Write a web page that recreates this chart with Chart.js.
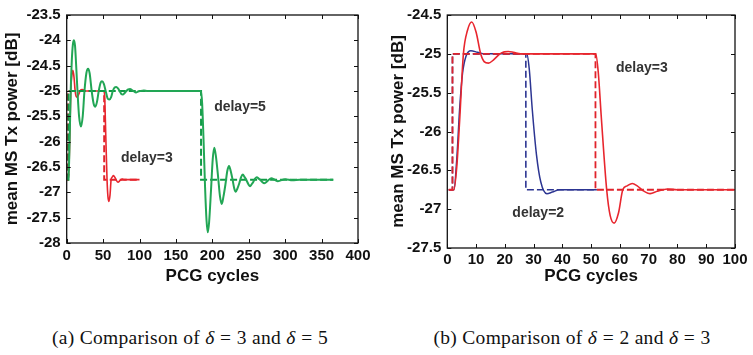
<!DOCTYPE html>
<html>
<head>
<meta charset="utf-8">
<script src="https://cdn.jsdelivr.net/npm/chart.js@4.4.1/dist/chart.umd.min.js"></script>
<style>
  html, body { margin: 0; padding: 0; background: #fff; }
  body { width: 753px; height: 355px; position: relative; overflow: hidden; }
  .box { position: absolute; top: 0; }
  .cap { position: absolute; top: 327px; font-family: "Liberation Serif", "DejaVu Serif", serif; font-size: 19.5px; letter-spacing: 0.3px; color: #111; white-space: nowrap; transform: translateX(-50%); }
  .cap i { font-style: italic; }
  .cap .eq { padding: 0 0.28em; }
</style>
</head>
<body>
<div class="box" style="left:0px;width:375px;height:290px;"><canvas id="c1" width="375" height="290"></canvas></div>
<div class="box" style="left:376px;width:377px;height:290px;"><canvas id="c2" width="377" height="290"></canvas></div>
<div class="cap" style="left:190px;">(a) Comparison of <i>δ</i><span class="eq">=</span>3 and <i>δ</i><span class="eq">=</span>5</div>
<div class="cap" style="left:572px;">(b) Comparison of <i>δ</i><span class="eq">=</span>2 and <i>δ</i><span class="eq">=</span>3</div>
<script>
// ---------- tick labels ----------
const leftXTicks = [0, 50, 100, 150, 200, 250, 300, 350, 400];
const leftYTicks = [-23.5, -24, -24.5, -25, -25.5, -26, -26.5, -27, -27.5, -28];
const rightXTicks = [0, 10, 20, 30, 40, 50, 60, 70, 80, 90, 100];
const rightYTicks = [-24.5, -25, -25.5, -26, -26.5, -27, -27.5];

// ---------- series (x = PCG cycle, y = mean MS Tx power dB) ----------
// delay = 3 target (dashed) and response (solid) — used in both panels
const delay3Target = [[0.5,-26.75],[1.8,-26.75],[1.8,-25],[51.5,-25],[51.5,-26.75],[100,-26.75]];
const delay3Response = [[0.5,-26.75],[2.3,-26.75],[3.3,-26.45],[4.3,-25.85],[5.6,-25.0],[7,-24.7],[8.5,-24.59],[10,-24.72],[11.6,-25.0],[12.8,-25.1],[14.3,-25.12],[16,-25.08],[18.3,-25.0],[19.8,-24.975],[21.2,-24.97],[23,-24.98],[25.5,-25.0],[51.6,-25.0],[52.5,-25.25],[53.5,-25.8],[55.4,-26.75],[56.6,-27.08],[58,-27.18],[59.5,-27.05],[61,-26.75],[62.5,-26.7],[64.3,-26.67],[66,-26.7],[68,-26.76],[70.5,-26.8],[73,-26.77],[76.5,-26.74],[80,-26.75],[100,-26.75]];
// delay = 5 target (dashed) and response (solid)
const delay5Target = [[1,-26.75],[2.5,-26.75],[2.5,-25],[184.5,-25],[184.5,-26.75],[366,-26.75]];
const delay5Response = [[1.5,-26.75],[3,-26.55],[4,-26.0],[5.5,-25.0],[7,-24.4],[8.5,-24.08],[10,-24.0],[11.5,-24.12],[13,-24.5],[14.8,-25.0],[17,-25.5],[19.6,-25.7],[22,-25.5],[24.4,-25.0],[27,-24.65],[29.3,-24.56],[31.5,-24.65],[34.3,-25.0],[37,-25.25],[39.3,-25.31],[41.5,-25.22],[44,-25.0],[46.5,-24.84],[48.5,-24.81],[51,-24.86],[53.5,-25.0],[56,-25.14],[58.4,-25.17],[61,-25.12],[63.3,-25.0],[65.8,-24.93],[68.1,-24.92],[70.5,-24.95],[72.6,-25.0],[75,-25.06],[77,-25.07],[79.5,-25.04],[82,-25.0],[84.5,-24.97],[87,-24.96],[89.5,-24.98],[91.5,-25.0],[95.2,-25.03],[98,-25.01],[101,-25.0],[106,-24.99],[111,-25.0],[184.5,-25.0],[186,-25.25],[188,-26.0],[190,-26.9],[192,-27.55],[193.7,-27.79],[195.5,-27.6],[198.2,-26.95],[200.5,-26.35],[202.7,-26.12],[205,-26.3],[207.8,-26.68],[210.5,-27.08],[212.9,-27.23],[215.3,-27.08],[217.9,-26.85],[220.5,-26.58],[222.9,-26.48],[225.2,-26.58],[227.5,-26.73],[230,-26.92],[232.1,-26.99],[234.5,-26.92],[237,-26.82],[239.5,-26.7],[241.8,-26.65],[244.3,-26.7],[246.8,-26.76],[249.5,-26.84],[251.8,-26.88],[254,-26.84],[256.4,-26.79],[258.7,-26.73],[261,-26.7],[263.6,-26.73],[266.2,-26.76],[268.8,-26.8],[271.4,-26.82],[276.2,-26.77],[281,-26.72],[285.5,-26.75],[290,-26.78],[300,-26.74],[310,-26.76],[320,-26.75],[366,-26.75]];
// delay = 2 target (dashed) and response (solid)
const delay2Target = [[0.5,-26.75],[1.8,-26.75],[1.8,-25],[27.3,-25],[27.3,-26.75],[52,-26.75]];
const delay2Response = [[0.5,-26.75],[2.3,-26.75],[3.3,-26.35],[4.3,-25.7],[5.3,-25.25],[6.5,-25.03],[8.2,-24.96],[10.5,-24.98],[13,-25.0],[27.6,-25.0],[28.5,-25.2],[29.5,-25.7],[31,-26.3],[32.5,-26.65],[34.6,-26.8],[36.5,-26.78],[39,-26.75],[52,-26.75]];

// ---------- annotations ----------
const leftNotes = [{text:'delay=5', x:238, y:-25.32}, {text:'delay=3', x:110, y:-26.32}];
const rightNotes = [{text:'delay=3', x:67.6, y:-25.19}, {text:'delay=2', x:31.6, y:-27.05}];

const RED = '#e8262e', RED_D = '#e0232b', GREEN = '#22a655', GREEN_D = '#0f9a45', BLUE = '#2c3592';
const FONT = '"Liberation Sans", Arial, Helvetica, sans-serif';

const toXY = arr => arr.map(p => ({x: p[0], y: p[1]}));

function solid(data, color, w, order) {
  return {data: toXY(data), borderColor: color, borderWidth: w, pointRadius: 0, fill: false,
          cubicInterpolationMode: 'monotone', order: order};
}
function dashed(data, color, w, order) {
  return {data: toXY(data), borderColor: color, borderWidth: w, pointRadius: 0, fill: false,
          tension: 0, borderDash: [7, 3], order: order};
}

const framePlugin = {
  id: 'frame',
  afterDatasetsDraw(chart, args, opts) {
    const {ctx, chartArea: a, scales} = chart;
    ctx.save();
    ctx.strokeStyle = '#111';
    ctx.lineWidth = 1;
    ctx.beginPath();
    const L = 4;
    scales.x.ticks.forEach(t => {
      const px = Math.round(scales.x.getPixelForValue(t.value)) + 0.5;
      ctx.moveTo(px, a.bottom); ctx.lineTo(px, a.bottom - L);
      ctx.moveTo(px, a.top); ctx.lineTo(px, a.top + L);
    });
    scales.y.ticks.forEach(t => {
      const py = Math.round(scales.y.getPixelForValue(t.value)) + 0.5;
      ctx.moveTo(a.left, py); ctx.lineTo(a.left + L, py);
      ctx.moveTo(a.right, py); ctx.lineTo(a.right - L, py);
    });
    ctx.stroke();
    ctx.lineWidth = 1.3;
    ctx.strokeRect(a.left, a.top, a.right - a.left, a.bottom - a.top);
    // annotations
    ctx.fillStyle = '#333';
    ctx.font = 'bold 14px ' + FONT;
    ctx.textAlign = 'center';
    ctx.textBaseline = 'middle';
    (opts.notes || []).forEach(n => {
      ctx.fillText(n.text, scales.x.getPixelForValue(n.x), scales.y.getPixelForValue(n.y));
    });
    ctx.restore();
  }
};

function makeChart(id, datasets, xr, yr, xTicks, yTicks, notes, geo) {
  return new Chart(document.getElementById(id), {
    type: 'line',
    data: {datasets},
    plugins: [framePlugin],
    options: {
      responsive: false,
      animation: false,
      devicePixelRatio: 1,
      layout: {padding: {top: geo.top, right: geo.right, left: 0, bottom: 0}},
      plugins: {legend: {display: false}, tooltip: {enabled: false}, frame: {notes}},
      scales: {
        x: {
          type: 'linear', min: xr[0], max: xr[1],
          grid: {display: false, drawTicks: false}, border: {display: false},
          afterBuildTicks: s => { s.ticks = xTicks.map(v => ({value: v})); },
          afterFit: s => { s.height = geo.xh; },
          ticks: {color: '#111', padding: geo.xpad, maxRotation: 0, autoSkip: false,
                  callback: v => String(v),
                  font: {family: FONT, size: 15, weight: 'bold'}},
          title: {display: true, text: 'PCG cycles', color: '#111',
                  font: {family: FONT, size: 17, weight: 'bold'}, padding: {top: 0, bottom: geo.xtp}}
        },
        y: {
          type: 'linear', min: yr[0], max: yr[1],
          grid: {display: false, drawTicks: false}, border: {display: false},
          afterBuildTicks: s => { s.ticks = yTicks.map(v => ({value: v})); },
          afterFit: s => { s.width = geo.yw; },
          ticks: {color: '#111', padding: 6, autoSkip: false,
                  callback: v => String(v),
                  font: {family: FONT, size: 15, weight: 'bold'}},
          title: {display: true, text: 'mean MS Tx power [dB]', color: '#111',
                  font: {family: FONT, size: 17, weight: 'bold'}, padding: {top: geo.ytp, bottom: 0}}
        }
      }
    }
  });
}

makeChart('c1', [
  dashed(delay3Target, RED_D, 2, 4),
  solid(delay3Response, RED, 1.6, 3),
  dashed(delay5Target, GREEN_D, 2, 2),
  solid(delay5Response, GREEN, 2, 1)
], [0, 400], [-28, -23.5], leftXTicks, leftYTicks, leftNotes,
   {top: 10.5, right: 17, xh: 47, yw: 66.7, xpad: 4, xtp: 3, ytp: 2});

makeChart('c2', [
  dashed(delay2Target, BLUE, 1.6, 4),
  solid(delay2Response, BLUE, 1.5, 3),
  dashed(delay3Target, RED_D, 1.8, 2),
  solid(delay3Response, RED, 1.6, 1)
], [0, 100], [-27.5, -24.5], rightXTicks, rightYTicks, rightNotes,
   {top: 10, right: 18, xh: 42, yw: 71.3, xpad: 3, xtp: 3, ytp: 12});
</script>
</body>
</html>
